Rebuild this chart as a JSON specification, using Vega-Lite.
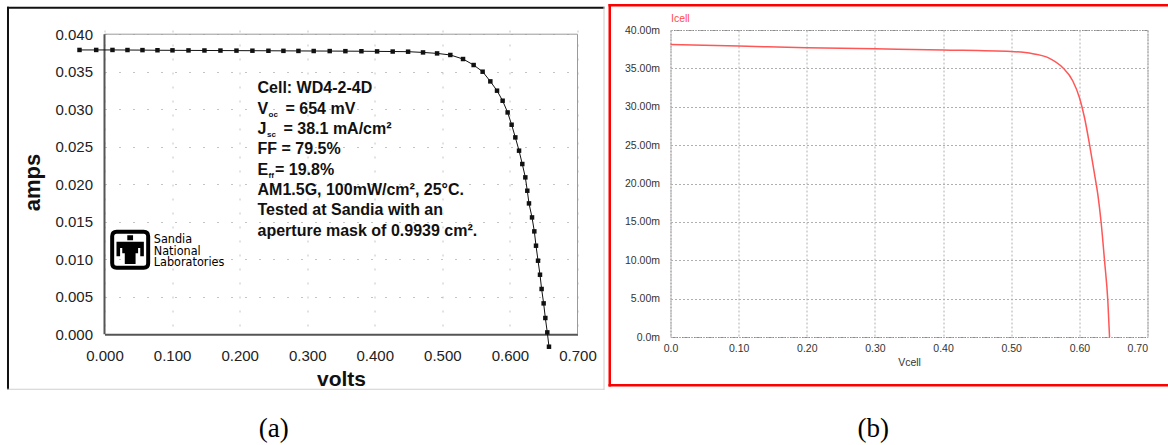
{
  "$schema": "https://vega.github.io/schema/vega-lite/v6.json",
  "background": "white",
  "padding": {"left": 6.5, "top": 3, "right": 0, "bottom": 0},
  "spacing": 2,
  "bounds": "full",
  "config": {
    "font": "Liberation Sans",
    "view": {"stroke": null}
  },
  "datasets": {
    "curveA": [
      {"v": -0.0370, "a": 0.03790}, {"v": -0.0123, "a": 0.03790}, {"v": 0.0118, "a": 0.03790},
      {"v": 0.0340, "a": 0.03789}, {"v": 0.0562, "a": 0.03788}, {"v": 0.0784, "a": 0.03786},
      {"v": 0.1006, "a": 0.03785}, {"v": 0.1243, "a": 0.03784}, {"v": 0.1479, "a": 0.03783},
      {"v": 0.1716, "a": 0.03782}, {"v": 0.1953, "a": 0.03781}, {"v": 0.2189, "a": 0.03780},
      {"v": 0.2426, "a": 0.03779}, {"v": 0.2648, "a": 0.03778}, {"v": 0.2870, "a": 0.03777},
      {"v": 0.3096, "a": 0.03776}, {"v": 0.3333, "a": 0.03775}, {"v": 0.3565, "a": 0.03774},
      {"v": 0.3802, "a": 0.03773}, {"v": 0.4034, "a": 0.03771}, {"v": 0.4265, "a": 0.03769},
      {"v": 0.4493, "a": 0.03767}, {"v": 0.4714, "a": 0.03757}, {"v": 0.4922, "a": 0.03744},
      {"v": 0.5118, "a": 0.03723}, {"v": 0.5306, "a": 0.03669}, {"v": 0.5463, "a": 0.03589},
      {"v": 0.5596, "a": 0.03500}, {"v": 0.5710, "a": 0.03371}, {"v": 0.5809, "a": 0.03247},
      {"v": 0.5892, "a": 0.03113}, {"v": 0.5966, "a": 0.02957}, {"v": 0.6025, "a": 0.02793},
      {"v": 0.6080, "a": 0.02624}, {"v": 0.6135, "a": 0.02447}, {"v": 0.6183, "a": 0.02269},
      {"v": 0.6228, "a": 0.02091}, {"v": 0.6257, "a": 0.01913}, {"v": 0.6282, "a": 0.01744},
      {"v": 0.6327, "a": 0.01557}, {"v": 0.6361, "a": 0.01371}, {"v": 0.6386, "a": 0.01180},
      {"v": 0.6416, "a": 0.00980}, {"v": 0.6445, "a": 0.00793}, {"v": 0.6469, "a": 0.00603},
      {"v": 0.6499, "a": 0.00411}, {"v": 0.6524, "a": 0.00216}, {"v": 0.6553, "a": 0.00024},
      {"v": 0.6578, "a": -0.00167}
    ],
    "curveB": [
      {"v": 0.0, "a": 38.1}, {"v": 0.1, "a": 37.9}, {"v": 0.2, "a": 37.7},
      {"v": 0.3, "a": 37.55}, {"v": 0.4, "a": 37.4}, {"v": 0.5, "a": 37.2},
      {"v": 0.5317, "a": 36.91}, {"v": 0.5562, "a": 36.31}, {"v": 0.5757, "a": 35.09},
      {"v": 0.5904, "a": 33.36}, {"v": 0.6002, "a": 31.18}, {"v": 0.6076, "a": 28.57},
      {"v": 0.6149, "a": 25.11}, {"v": 0.6223, "a": 21.2}, {"v": 0.6271, "a": 18.59},
      {"v": 0.6320, "a": 14.89}, {"v": 0.6370, "a": 9.9}, {"v": 0.6418, "a": 4.69},
      {"v": 0.6443, "a": 0.0}
    ]
  },
  "hconcat": [
    {
      "width": 473,
      "height": 304.2,
      "encoding": {
        "x": {
          "field": "v", "type": "quantitative",
          "scale": {"domain": [0, 0.7], "nice": false, "zero": false},
          "axis": {
            "title": "volts", "values": [0, 0.1, 0.2, 0.3, 0.4, 0.5, 0.6, 0.7],
            "format": ".3f", "labelFlush": false, "labelOverlap": false,
            "labelFont": "Liberation Sans", "labelFontSize": 15, "labelColor": "#222",
            "ticks": false, "labelPadding": 14,
            "domainColor": "#555", "domainWidth": 2,
            "grid": true, "gridColor": "#c4c4c4", "gridDash": [2, 12], "gridWidth": 1,
            "titleFont": "Liberation Sans", "titleFontSize": 21, "titleFontWeight": "bold",
            "titleColor": "#111", "titlePadding": 5
          }
        },
        "y": {
          "field": "a", "type": "quantitative",
          "scale": {"domain": [0, 0.04056], "nice": false, "zero": false},
          "axis": {
            "title": "amps", "values": [0, 0.005, 0.01, 0.015, 0.02, 0.025, 0.03, 0.035, 0.04],
            "format": ".3f", "labelFlush": false, "labelOverlap": false,
            "labelFont": "Liberation Sans", "labelFontSize": 15, "labelColor": "#222",
            "ticks": false, "labelPadding": 12, "domain": false,
            "grid": true, "gridColor": "#c4c4c4", "gridDash": [2, 12], "gridWidth": 1,
            "titleFont": "Liberation Sans", "titleFontSize": 22, "titleFontWeight": "bold",
            "titleColor": "#111", "titlePadding": 10
          }
        }
      },
      "layer": [
        {
          "data": {"values": [
            {"v": -0.14430, "v2": 0.73998, "a": 0.043667, "a2": 0.043400},
            {"v": -0.14430, "v2": -0.14134, "a": 0.043667, "a2": -0.007400}
          ]},
          "mark": {"type": "rect", "color": "#111", "strokeWidth": 0},
          "encoding": {"x2": {"field": "v2"}, "y2": {"field": "a2"}}
        },
        {
          "data": {"values": [
            {"v": -0.14430, "v2": 0.73998, "a": -0.007267, "a2": -0.007400},
            {"v": 0.73849, "v2": 0.73998, "a": 0.043667, "a2": -0.007400}
          ]},
          "mark": {"type": "rect", "color": "#cfcfcf", "strokeWidth": 0},
          "encoding": {"x2": {"field": "v2"}, "y2": {"field": "a2"}}
        },
        {
          "data": {"values": [
            {"v": 0, "v2": 0.7, "a": 0.04, "a2": 0.04},
            {"v": 0.7, "v2": 0.7, "a": 0.04, "a2": 0}
          ]},
          "mark": {"type": "rule", "color": "#9a9a9a", "strokeWidth": 1},
          "encoding": {"x2": {"field": "v2"}, "y2": {"field": "a2"}}
        },
        {
          "data": {"values": [{"v": 0, "v2": 0, "a": 0.04, "a2": 0}]},
          "mark": {"type": "rule", "color": "#555", "strokeWidth": 2},
          "encoding": {"x2": {"field": "v2"}, "y2": {"field": "a2"}}
        },
        {
          "data": {"name": "curveA"},
          "mark": {
            "type": "line", "color": "#111", "strokeWidth": 1,
            "point": {"shape": "square", "size": 20, "filled": true, "color": "#111"}
          }
        },
        {
          "data": {"values": [{"v": 0.0380, "a": 0.011267}]},
          "mark": {
            "type": "point", "filled": false, "stroke": "#000", "strokeWidth": 4, "size": 1296, "opacity": 1,
            "shape": "M-0.75,-1 L0.75,-1 Q1,-1 1,-0.75 L1,0.75 Q1,1 0.75,1 L-0.75,1 Q-1,1 -1,0.75 L-1,-0.75 Q-1,-1 -0.75,-1 Z"
          }
        },
        {
          "data": {"values": [{"v": 0.0380, "a": 0.011267}]},
          "mark": {
            "type": "point", "filled": true, "color": "#000", "size": 1296, "opacity": 1,
            "shape": "M-0.16,-0.8 L0.16,-0.8 L0.16,-0.52 L-0.16,-0.52 Z M-0.76,-0.44 L0.76,-0.44 L0.76,0.36 L0.56,0.36 L0.56,-0.1 L0.44,-0.1 L0.44,0.2 L0.3,0.2 L0.3,0.8 L-0.3,0.8 L-0.3,0.2 L-0.44,0.2 L-0.44,-0.1 L-0.56,-0.1 L-0.56,0.36 L-0.76,0.36 Z"
          }
        },
        {
          "data": {"values": [
            {"v": 0.07296, "a": 0.01211, "label": "Sandia"},
            {"v": 0.07296, "a": 0.01057, "label": "National"},
            {"v": 0.07296, "a": 0.00903, "label": "Laboratories"}
          ]},
          "mark": {"type": "text", "font": "DejaVu Sans Condensed", "fontSize": 12.5, "align": "left", "baseline": "alphabetic", "color": "#000"},
          "encoding": {"text": {"field": "label"}}
        },
        {
          "data": {"values": [
            {"v": 0.22643, "a": 0.03210, "label": "Cell: WD4-2-4D"},
            {"v": 0.22643, "a": 0.02940, "label": "V"},
            {"v": 0.26787, "a": 0.02940, "label": "= 654 mV"},
            {"v": 0.22643, "a": 0.02669, "label": "J"},
            {"v": 0.26491, "a": 0.02669, "label": "= 38.1 mA/cm²"},
            {"v": 0.22643, "a": 0.02399, "label": "FF = 79.5%"},
            {"v": 0.22643, "a": 0.02128, "label": "E"},
            {"v": 0.25233, "a": 0.02128, "label": "= 19.8%"},
            {"v": 0.22643, "a": 0.01857, "label": "AM1.5G, 100mW/cm², 25°C."},
            {"v": 0.22643, "a": 0.01587, "label": "Tested at Sandia with an"},
            {"v": 0.22643, "a": 0.01316, "label": "aperture mask of 0.9939 cm²."}
          ]},
          "mark": {"type": "text", "font": "Liberation Sans", "fontSize": 16, "fontWeight": "bold", "align": "left", "baseline": "alphabetic", "color": "#111"},
          "encoding": {"text": {"field": "label"}}
        },
        {
          "data": {"values": [
            {"v": 0.24271, "a": 0.02900, "label": "oc"},
            {"v": 0.24049, "a": 0.02629, "label": "sc"},
            {"v": 0.24271, "a": 0.02088, "label": "ff"}
          ]},
          "mark": {"type": "text", "font": "Liberation Sans", "fontSize": 8, "fontWeight": "bold", "align": "left", "baseline": "alphabetic", "color": "#111"},
          "encoding": {"text": {"field": "label"}}
        },
        {
          "data": {"values": [{"v": 0.2505, "a": -0.01367, "label": "(a)"}]},
          "mark": {"type": "text", "font": "Liberation Serif", "fontSize": 27, "align": "center", "baseline": "alphabetic", "color": "#000"},
          "encoding": {"text": {"field": "label"}}
        }
      ]
    },
    {
      "width": 477,
      "height": 307,
      "view": {"stroke": "#8a8a8a", "strokeWidth": 1, "strokeDash": [2, 1]},
      "encoding": {
        "x": {
          "field": "v", "type": "quantitative",
          "scale": {"domain": [0, 0.7], "nice": false, "zero": false},
          "axis": {
            "title": "Vcell", "values": [0, 0.1, 0.2, 0.3, 0.4, 0.5, 0.6, 0.7],
            "labelExpr": "datum.value == 0 ? '0.0' : format(datum.value, '.2f')",
            "labelFlush": false, "labelOverlap": false,
            "labelAlign": {"condition": {"test": "datum.value > 0.65", "value": "right"}, "value": "center"},
            "labelFont": "Liberation Sans", "labelFontSize": 10.5, "labelColor": "#333",
            "ticks": false, "labelPadding": 6, "domain": false,
            "grid": true, "gridColor": "#b0b0b0", "gridDash": [2, 2], "gridWidth": 1,
            "titleFont": "Liberation Sans", "titleFontSize": 10.5, "titleFontWeight": "normal",
            "titleColor": "#333", "titlePadding": 4
          }
        },
        "y": {
          "field": "a", "type": "quantitative",
          "scale": {"domain": [0, 40], "nice": false, "zero": false},
          "axis": {
            "title": "Icell", "values": [0, 5, 10, 15, 20, 25, 30, 35, 40],
            "labelExpr": "datum.value == 0 ? '0.0m' : format(datum.value, '.2f') + 'm'",
            "labelFlush": false, "labelOverlap": false,
            "labelFont": "Liberation Sans", "labelFontSize": 10.5, "labelColor": "#333",
            "ticks": false, "labelPadding": 11, "domain": false,
            "grid": true, "gridColor": "#b0b0b0", "gridDash": [2, 2], "gridWidth": 1,
            "titleFont": "Liberation Sans", "titleFontSize": 10.5, "titleFontWeight": "normal",
            "titleColor": "#ff4a4a", "titleAngle": 0, "titleAlign": "left", "titleBaseline": "alphabetic",
            "titleX": 0, "titleY": -9
          }
        }
      },
      "layer": [
        {
          "data": {"values": [
            {"v": -0.09099, "v2": 0.73670, "a": 43.388, "a2": 43.062},
            {"v": -0.09099, "v2": -0.08732, "a": 43.388, "a2": -6.450},
            {"v": -0.09099, "v2": 0.73670, "a": -6.124, "a2": -6.450}
          ]},
          "mark": {"type": "rect", "color": "#ff0000", "strokeWidth": 0},
          "encoding": {"x2": {"field": "v2"}, "y2": {"field": "a2"}}
        },
        {
          "data": {"name": "curveB"},
          "mark": {"type": "line", "color": "#ff5656", "strokeWidth": 1.5, "interpolate": "monotone"}
        },
        {
          "data": {"values": [{"v": 0.2974, "a": -13.03, "label": "(b)"}]},
          "mark": {"type": "text", "font": "Liberation Serif", "fontSize": 27, "align": "center", "baseline": "alphabetic", "color": "#000"},
          "encoding": {"text": {"field": "label"}}
        }
      ]
    }
  ]
}
